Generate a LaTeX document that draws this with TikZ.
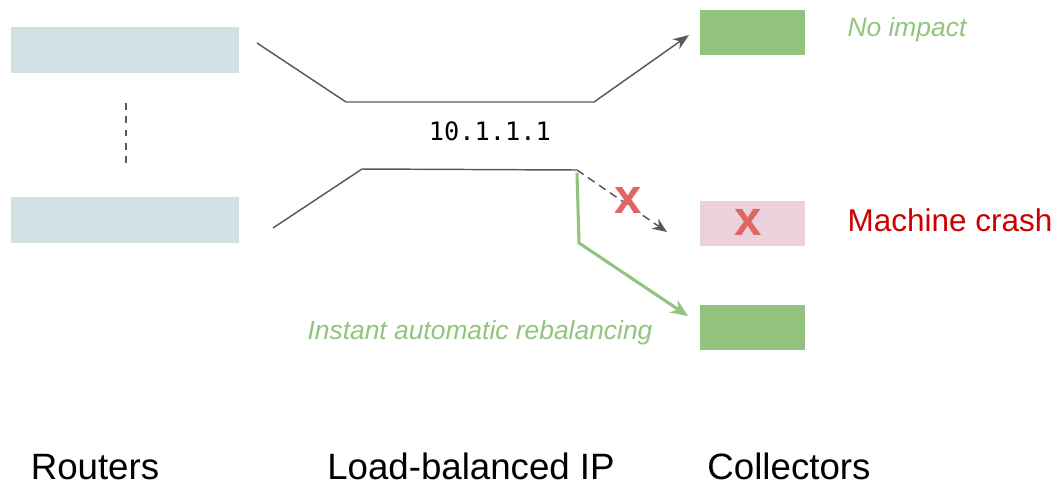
\documentclass[tikz,border=0pt]{standalone}
\usepackage{fontspec}
\setmainfont{Liberation Sans}
\newfontfamily\ipfont{DejaVu Sans Mono}
\usetikzlibrary{positioning,arrows.meta}

\definecolor{routerblue}{HTML}{D0E0E3}
\definecolor{okgreen}{HTML}{93C47D}
\definecolor{deadpink}{HTML}{EAD1DC}
\definecolor{crossred}{HTML}{E06666}
\definecolor{crashred}{HTML}{CC0000}
\definecolor{wire}{HTML}{595959}

\tikzset{
  router/.style={fill=routerblue, minimum width=171pt, minimum height=34.5pt, inner sep=0pt},
  collector/.style={fill=okgreen, minimum width=78.75pt, minimum height=33.75pt, inner sep=0pt},
  wireline/.style={wire, line width=1.1pt},
  cross/.style={crossred, inner sep=0pt, font=\bfseries\fontsize{37}{37}\selectfont},
  caption/.style={font=\fontsize{27.5}{30}\selectfont, anchor=base, inner sep=0pt},
}

\begin{document}
\begin{tikzpicture}[x=0.75pt,y=-0.75pt]
        % basics
        \useasboundingbox (0,0) rectangle (1058,487);

        % routers
        \node[router] (r1) at (125,50) {};
        \node[router] (r2) at (125,220) {};
        \draw[wireline, dash pattern=on 5pt off 5pt, line width=1.4pt] (126,103) coordinate (dtop) -- (126,165) coordinate (dbot);

        % collectors
        \node[collector] (c1) at (752.5,32.5) {};
        \node[collector, fill=deadpink] (c2) at (752.5,223.5) {};
        \node[collector] (c3) at (752.5,327.5) {};
        \node[cross] (x2) at (748,222) {x};

        % load-balanced IP
        \coordinate (ain) at (257,43);
        \coordinate (abend) at (346,102);
        \coordinate (aout) at (594,102);
        \coordinate (aend) at (689,35);
        \coordinate (bin) at (273,228);
        \coordinate (bbend) at (362,169);
        \coordinate (bout) at (577,170);
        \coordinate (bdead) at (667,232);
        \coordinate (gdown) at (579,243);
        \coordinate (gend) at (688,316);
        \draw[wireline, -{Stealth[length=12pt,width=9pt]}] (ain) -- (abend) -- (aout) -- (aend);
        \draw[wireline] (bin) -- (bbend) -- (bout);
        \draw[wireline, dash pattern=on 6pt off 4pt, line width=1.1pt, -{Stealth[length=11pt,width=9pt]}] (bout) -- (bdead);
        \node[cross] (x1) at (628,200) {x};
        \draw[okgreen, line width=2.3pt, -{Stealth[length=13pt,width=11pt]}] ([yshift=-2pt]bout) -- (gdown) -- (gend);
        \node[font=\ipfont\fontsize{19}{19}\selectfont] (ip) at (490,131) {10.1.1.1};

        % text
        \node[okgreen, font=\itshape\fontsize{19.8}{20}\selectfont] (noimp) at (907,30) {No impact};
        \node[crashred, font=\fontsize{23.6}{24}\selectfont] (crash) at (950,220) {Machine crash};
        \node[okgreen, font=\itshape\fontsize{19.8}{20}\selectfont] (rebal) at (480,333) {Instant automatic rebalancing};
        \node[caption] (lrouters) at (95,479) {Routers};
        \node[caption] (lip) at (471,479) {Load-balanced IP};
        \node[caption] (lcoll) at (789,479) {Collectors};
\end{tikzpicture}
\end{document}
